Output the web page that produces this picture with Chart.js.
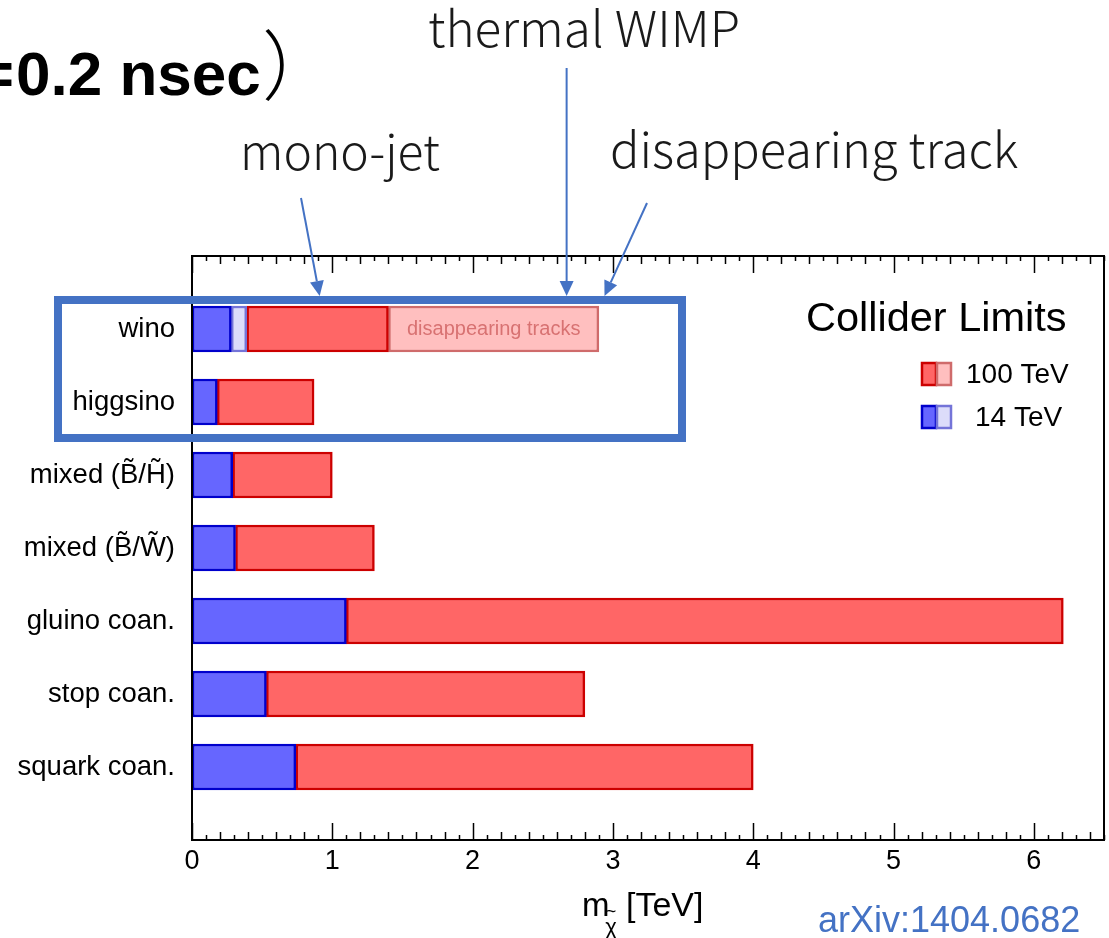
<!DOCTYPE html>
<html>
<head>
<meta charset="utf-8">
<script src="https://cdn.jsdelivr.net/npm/chart.js@4.4.1/dist/chart.umd.min.js"></script>
<style>
  html, body { margin: 0; padding: 0; background: #fff; }
  #wrap { width: 1109px; height: 938px; position: relative; }
</style>
</head>
<body>
<div id="wrap"><canvas id="limitsChart"></canvas></div>
<script>
// reach in TeV per model, first/last rows are empty spacers
const categories = ['', 'wino', 'higgsino', 'mixed (B\u0303/H\u0303)', 'mixed (B\u0303/W\u0303)', 'gluino coan.', 'stop coan.', 'squark coan.', ''];
const lhc14 = [null, 0.28, 0.18, 0.29, 0.31, 1.10, 0.53, 0.74, null];
const lhc14Ext = [null, 0.39, null, null, null, null, null, null, null];
const pp100 = [null, 1.40, 0.87, 1.00, 1.30, 6.21, 2.80, 4.00, null];
const pp100Ext = [null, 2.90, null, null, null, null, null, null, null];
const xTicks = [0, 1, 2, 3, 4, 5, 6];

const xMax = 6.5;
const BLUE = '#4472c4';
const SANS = '"Liberation Sans", Arial, sans-serif';

const ranges = (from, to) => to.map((v, i) => (v == null || from[i] == null) ? null : [from[i], v]);
const zeros = categories.map(() => 0);
const blueEnd = lhc14.map((v, i) => lhc14Ext[i] != null ? lhc14Ext[i] : v);

const barStyle = { grouped: false, barThickness: 46, borderWidth: 2.5, borderSkipped: false };

function arrow(ctx, x1, y1, x2, y2) {
  const a = Math.atan2(y2 - y1, x2 - x1);
  const len = 15, half = 7;
  ctx.beginPath();
  ctx.moveTo(x1, y1);
  ctx.lineTo(x2 - Math.cos(a) * len, y2 - Math.sin(a) * len);
  ctx.stroke();
  ctx.beginPath();
  ctx.moveTo(x2, y2);
  ctx.lineTo(x2 - Math.cos(a) * len - Math.sin(a) * half, y2 - Math.sin(a) * len + Math.cos(a) * half);
  ctx.lineTo(x2 - Math.cos(a) * len + Math.sin(a) * half, y2 - Math.sin(a) * len - Math.cos(a) * half);
  ctx.closePath();
  ctx.fill();
}

const decorations = {
  id: 'decorations',
  afterDraw(chart) {
    const ctx = chart.ctx;
    const area = chart.chartArea;
    const xs = chart.scales.x;
    ctx.save();

    // frame with ticks on top and bottom
    ctx.strokeStyle = '#000';
    ctx.lineWidth = 2;
    ctx.strokeRect(area.left, area.top, area.right - area.left, area.bottom - area.top);
    ctx.lineWidth = 1.5;
    for (let k = 0; k <= xMax * 10; k++) {
      const v = k / 10;
      const px = Math.round(xs.getPixelForValue(v)) + 0.5;
      const len = k % 10 === 0 ? 17 : (k % 2 === 0 ? 8 : 5);
      ctx.beginPath();
      ctx.moveTo(px, area.top); ctx.lineTo(px, area.top + len);
      ctx.moveTo(px, area.bottom); ctx.lineTo(px, area.bottom - len);
      ctx.stroke();
    }

    // axis title
    ctx.fillStyle = '#000';
    ctx.textBaseline = 'alphabetic';
    ctx.textAlign = 'left';
    ctx.font = '33px ' + SANS;
    ctx.fillText('m', 582, 916);
    ctx.font = '34px ' + SANS;
    ctx.fillText('[TeV]', 626, 916);
    ctx.textAlign = 'center';
    ctx.font = '22px ' + SANS;
    ctx.fillText('\u03C7', 611, 934);
    ctx.font = '18px ' + SANS;
    ctx.fillText('~', 611, 917);

    // label inside the disappearing-track bar
    const ext = chart.getDatasetMeta(3).data[1];
    ctx.font = '20px ' + SANS;
    ctx.fillStyle = '#d87272';
    ctx.textAlign = 'center';
    ctx.textBaseline = 'middle';
    ctx.fillText('disappearing tracks', (ext.x + ext.base) / 2, ext.y);

    // legend box
    ctx.fillStyle = '#000';
    ctx.textAlign = 'left';
    ctx.font = '41.5px ' + SANS;
    ctx.fillText('Collider Limits', 806, 320);
    const legend = [
      { label: '100 TeV', dark: chart.data.datasets[2], light: chart.data.datasets[3], y: 374, tx: 966 },
      { label: '14 TeV', dark: chart.data.datasets[0], light: chart.data.datasets[1], y: 417, tx: 975 }
    ];
    legend.forEach(e => {
      ctx.lineWidth = 2.5;
      [[e.dark, 922], [e.light, 937]].forEach(([ds, lx]) => {
        ctx.fillStyle = ds.backgroundColor;
        ctx.strokeStyle = ds.borderColor;
        ctx.fillRect(lx, e.y - 11, 14, 22);
        ctx.strokeRect(lx, e.y - 11, 14, 22);
      });
      ctx.fillStyle = '#000';
      ctx.font = '28px ' + SANS;
      ctx.fillText(e.label, e.tx, e.y + 1);
    });

    // reference tag
    ctx.fillStyle = BLUE;
    ctx.font = '36px ' + SANS;
    ctx.fillText('arXiv:1404.0682', 818, 922);

    // highlight box around wino / higgsino
    ctx.strokeStyle = BLUE;
    ctx.lineWidth = 8;
    ctx.strokeRect(58, 300, 624, 138);

    // slide annotations
    ctx.fillStyle = '#1a1a1a';
    ctx.textBaseline = 'alphabetic';
    ctx.font = '300 49.5px "Noto Sans CJK JP", sans-serif';
    ctx.fillText('thermal WIMP', 428, 47);
    ctx.font = '300 48px "Noto Sans CJK JP", sans-serif';
    ctx.fillText('mono-jet', 240, 170);
    ctx.font = '300 48.8px "Noto Sans CJK JP", sans-serif';
    ctx.fillText('disappearing track', 610, 168);

    ctx.fillStyle = '#000';
    ctx.font = 'bold 62px ' + SANS;
    ctx.textAlign = 'right';
    ctx.fillText('=', 14, 95);
    ctx.textAlign = 'left';
    ctx.fillText('0.2 nsec', 16, 95);
    ctx.font = '300 76px "Noto Sans CJK JP", sans-serif';
    ctx.fillText('\uFF09', 262, 94);

    // arrows
    ctx.strokeStyle = BLUE;
    ctx.fillStyle = BLUE;
    ctx.lineWidth = 2;
    const tipY = 296;
    arrow(ctx, 301, 198, xs.getPixelForValue(0.91), tipY);
    arrow(ctx, xs.getPixelForValue(2.67), 68, xs.getPixelForValue(2.67), tipY);
    arrow(ctx, 647, 203, xs.getPixelForValue(2.94), tipY);

    ctx.restore();
  }
};

new Chart(document.getElementById('limitsChart'), {
  type: 'bar',
  data: {
    labels: categories,
    datasets: [
      Object.assign({ label: '14 TeV', data: ranges(zeros, lhc14), backgroundColor: '#6666ff', borderColor: '#0000cc' }, barStyle),
      Object.assign({ label: '14 TeV (ext.)', data: ranges(lhc14, lhc14Ext), backgroundColor: '#dcdcfa', borderColor: '#7474d8' }, barStyle),
      Object.assign({ label: '100 TeV', data: ranges(blueEnd, pp100), backgroundColor: '#ff6666', borderColor: '#cc0000' }, barStyle),
      Object.assign({ label: '100 TeV (ext.)', data: ranges(pp100, pp100Ext), backgroundColor: '#ffbfbf', borderColor: '#cf6b6b' }, barStyle)
    ]
  },
  options: {
    indexAxis: 'y',
    responsive: true,
    maintainAspectRatio: false,
    animation: false,
    layout: { padding: { top: 256, right: 5, left: 0, bottom: 0 } },
    plugins: { legend: { display: false }, tooltip: { enabled: false } },
    scales: {
      x: {
        type: 'linear',
        min: 0,
        max: xMax,
        grid: { display: false, drawTicks: false },
        border: { display: false },
        afterBuildTicks: scale => { scale.ticks = xTicks.map(v => ({ value: v })); },
        afterFit: scale => { scale.height = 98; },
        ticks: { padding: 5, color: '#000', font: { family: SANS, size: 27 } }
      },
      y: {
        type: 'category',
        offset: false,
        grid: { display: false, drawTicks: false, offset: false },
        border: { display: false },
        afterFit: scale => { scale.width = 192; },
        ticks: { padding: 17, color: '#000', autoSkip: false, font: { family: SANS, size: 27.5 } }
      }
    }
  },
  plugins: [decorations]
});
</script>
</body>
</html>
